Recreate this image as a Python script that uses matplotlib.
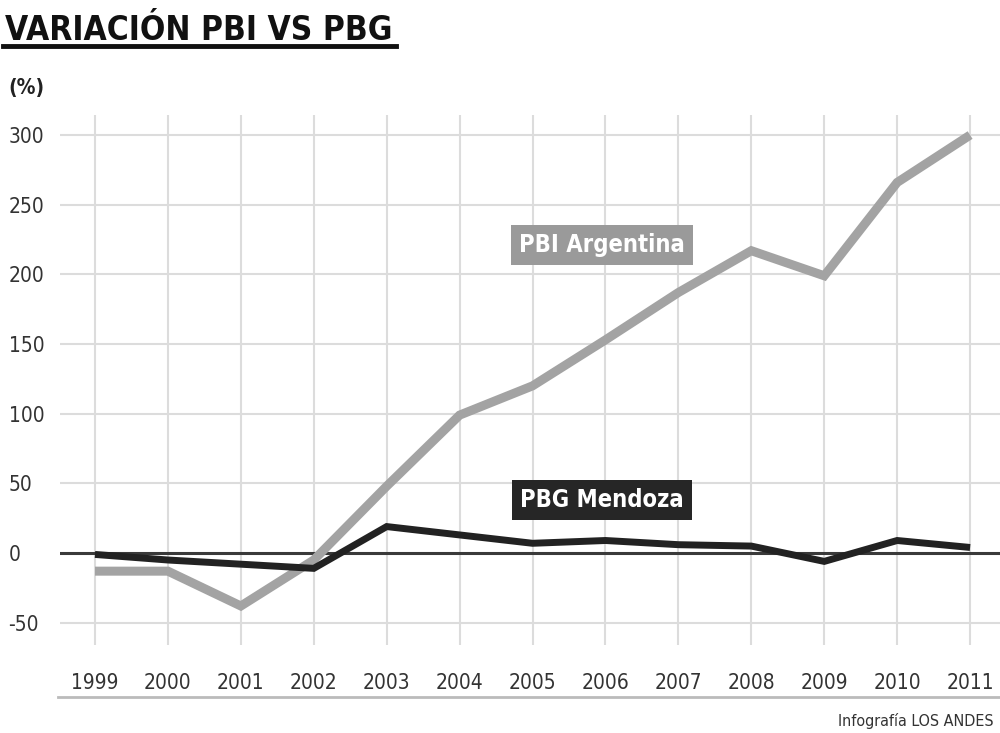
import matplotlib.pyplot as plt
from matplotlib.lines import Line2D

plt.rcParams['font.family'] = ['DejaVu Sans']
plt.rcParams['font.stretch'] = 'condensed'

# Data
years = [1999, 2000, 2001, 2002, 2003, 2004, 2005, 2006, 2007, 2008, 2009, 2010, 2011]
pbi_argentina = [-13, -13, -38, -5, 48, 99, 120, 153, 187, 217, 199, 266, 300]
pbg_mendoza = [-1, -5, -8, -11, 19, 13, 7, 9, 6, 5, -6, 9, 4]
y_ticks = [-50, 0, 50, 100, 150, 200, 250, 300]

fig = plt.figure(figsize=(10, 7.33), dpi=100)
W, H = 1000, 733
# axes placed in pixel coordinates
ax = fig.add_axes([60 / W, 1 - 645 / H, 940 / W, 530 / H])

ax.set_xlim(1998.52, 2011.41)
ax.set_ylim(-66.0, 314.4)

# grid
for t in y_ticks:
    if t != 0:
        ax.axhline(t, color='#dcdcdc', lw=1.5, zorder=0)
for yr in years:
    ax.axvline(yr, color='#dcdcdc', lw=1.5, zorder=0)

# zero line
ax.axhline(0, color='#3a3a3a', lw=2.2, zorder=1)

ax.plot(years, pbi_argentina, color='#a3a3a3', lw=6.5, solid_capstyle='butt',
        solid_joinstyle='miter', zorder=2)
ax.plot(years, pbg_mendoza, color='#222222', lw=5, solid_capstyle='butt',
        solid_joinstyle='miter', zorder=3)

for s in ax.spines.values():
    s.set_visible(False)

ax.set_xticks(years)
ax.set_xticklabels([str(y) for y in years])
ax.set_yticks(y_ticks)
ax.set_yticklabels([str(t) for t in y_ticks])
ax.tick_params(axis='both', length=0, labelsize=15, labelcolor='#333333')
ax.tick_params(axis='x', pad=20)
ax.tick_params(axis='y', pad=37)
for lbl in ax.get_yticklabels():
    lbl.set_horizontalalignment('left')

# series labels
ax.text(2005.95, 221, 'PBI Argentina', fontsize=17, fontweight='bold', color='white',
        ha='center', va='center', zorder=5,
        bbox=dict(boxstyle='square,pad=0.35', fc='#9a9a9a', ec='none'))
ax.text(2005.95, 38, 'PBG Mendoza', fontsize=17, fontweight='bold', color='white',
        ha='center', va='center', zorder=5,
        bbox=dict(boxstyle='square,pad=0.35', fc='#262626', ec='none'))

# title + underline
fig.text(5 / W, 1 - 40 / H, 'VARIACIÓN PBI VS PBG', fontsize=24, fontweight='bold',
         color='#111111', ha='left', va='baseline')
fig.add_artist(Line2D([3 / W, 396 / W], [1 - 46 / H, 1 - 46 / H], color='#111111',
                      lw=3.5, transform=fig.transFigure))

fig.text(8 / W, 1 - 88 / H, '(%)', fontsize=15, fontweight='bold', color='#222222',
         ha='left', va='center')

# bottom rule and credit
fig.add_artist(Line2D([58 / W, 1.0], [1 - 697 / H, 1 - 697 / H], color='#bbbbbb',
                      lw=2, transform=fig.transFigure))
fig.text(994 / W, 1 - 721 / H, 'Infografía LOS ANDES', fontsize=11.5, color='#333333',
         ha='right', va='center')

fig.savefig('out.png', dpi=100)
